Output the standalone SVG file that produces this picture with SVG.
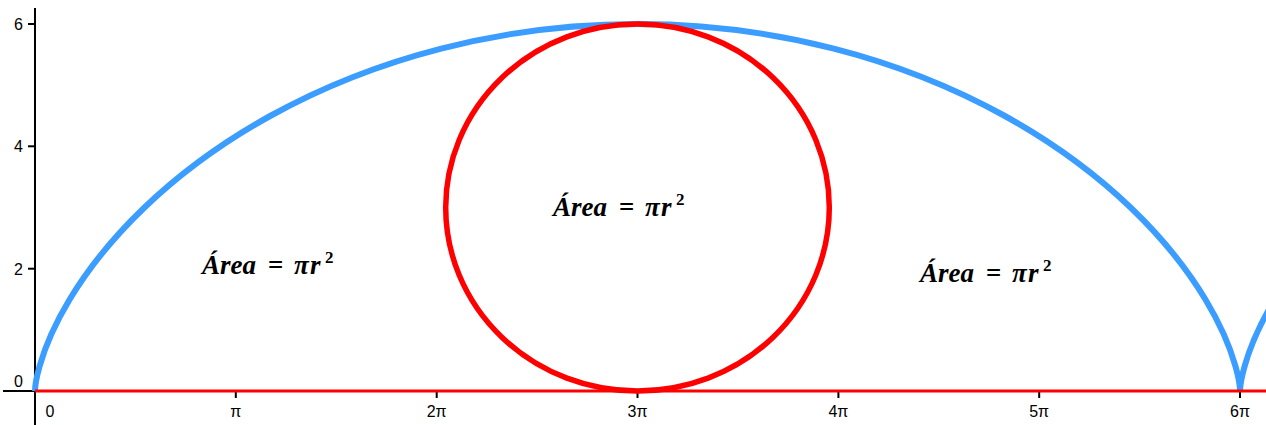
<svg xmlns="http://www.w3.org/2000/svg" width="1266" height="425" viewBox="0 0 1266 425">
<style>
.ax{stroke:#000;stroke-width:2;fill:none}
.tk{stroke:#000;stroke-width:2}
.tl{font-family:"Liberation Sans",Arial,sans-serif;font-size:16px;fill:#000}
.cyc{fill:none;stroke:#3b9dff;stroke-width:6;stroke-linejoin:round}
.red{fill:none;stroke:#ff0000}
.lbl{font-family:"Liberation Serif","Times New Roman",serif;font-size:27px;font-weight:bold;font-style:italic;fill:#000}
.up{font-style:normal}
.sup{font-style:normal;font-size:17px}
</style>
<rect width="1266" height="425" fill="#fff"/>
<g id="axes">
<line class="ax" x1="35" y1="8" x2="35" y2="425"/>
<line class="ax" x1="3" y1="391" x2="1266" y2="391"/>
<g id="yticks">
<line class="tk" x1="28" y1="24" x2="35" y2="24"/>
<line class="tk" x1="28" y1="146.3" x2="35" y2="146.3"/>
<line class="tk" x1="28" y1="268.7" x2="35" y2="268.7"/>
<text class="tl" x="23" y="29.5" text-anchor="end">6</text>
<text class="tl" x="23" y="152" text-anchor="end">4</text>
<text class="tl" x="23" y="274.5" text-anchor="end">2</text>
<text class="tl" x="23" y="387" text-anchor="end">0</text>
</g>
<g id="xticks">
<line class="tk" x1="235.8" y1="391" x2="235.8" y2="398"/>
<line class="tk" x1="436.7" y1="391" x2="436.7" y2="398"/>
<line class="tk" x1="637.5" y1="391" x2="637.5" y2="398"/>
<line class="tk" x1="838.4" y1="391" x2="838.4" y2="398"/>
<line class="tk" x1="1039.2" y1="391" x2="1039.2" y2="398"/>
<line class="tk" x1="1240" y1="391" x2="1240" y2="398"/>
<text class="tl" x="50" y="417" text-anchor="middle">0</text>
<text class="tl" x="235.8" y="417" text-anchor="middle">π</text>
<text class="tl" x="436.7" y="417" text-anchor="middle">2π</text>
<text class="tl" x="637.5" y="417" text-anchor="middle">3π</text>
<text class="tl" x="838.4" y="417" text-anchor="middle">4π</text>
<text class="tl" x="1039.2" y="417" text-anchor="middle">5π</text>
<text class="tl" x="1240" y="417" text-anchor="middle">6π</text>
</g>
</g>
<g id="cycloid">
<path class="cyc" d="M35 391 C35 391 35.05 382.43 39.53 366.42 C44.02 350.41 53.01 326.99 69.75 299.25 C86.49 271.51 111.00 239.53 144.47 207.5 C177.94 175.47 220.38 143.49 270.59 115.75 C320.80 88.01 378.75 64.59 441.21 48.58 C503.67 32.57 570.58 24 637.53 24 C704.48 24 771.38 32.57 833.84 48.58 C896.30 64.59 954.25 88.01 1004.46 115.75 C1054.67 143.49 1097.11 175.47 1130.58 207.5 C1164.05 239.53 1188.56 271.51 1205.30 299.25 C1222.04 326.99 1231.04 350.41 1235.52 366.42 C1240.01 382.43 1240.05 391 1240.05 391"/>
<path class="cyc" d="M1240.05 391 C1240.05 391 1240.10 382.43 1244.58 366.42 C1249.07 350.41 1258.06 326.99 1274.80 299.25"/>
</g>
<g id="baseline">
<line class="red" stroke-width="3" x1="35" y1="391" x2="1266" y2="391"/>
</g>
<g id="circle">
<ellipse class="red" stroke-width="5.5" cx="637.5" cy="207.5" rx="191.8" ry="183.5"/>
</g>
<g id="labels">
<text class="lbl" x="202" y="274">Área<tspan class="up" x="268">=</tspan><tspan x="294">π</tspan><tspan x="310">r</tspan><tspan class="sup" x="325" dy="-11">2</tspan></text>
<text class="lbl" x="553" y="216">Área<tspan class="up" x="619">=</tspan><tspan x="645">π</tspan><tspan x="661">r</tspan><tspan class="sup" x="676" dy="-11">2</tspan></text>
<text class="lbl" x="920" y="282">Área<tspan class="up" x="986">=</tspan><tspan x="1012">π</tspan><tspan x="1028">r</tspan><tspan class="sup" x="1043" dy="-11">2</tspan></text>
</g>
</svg>
